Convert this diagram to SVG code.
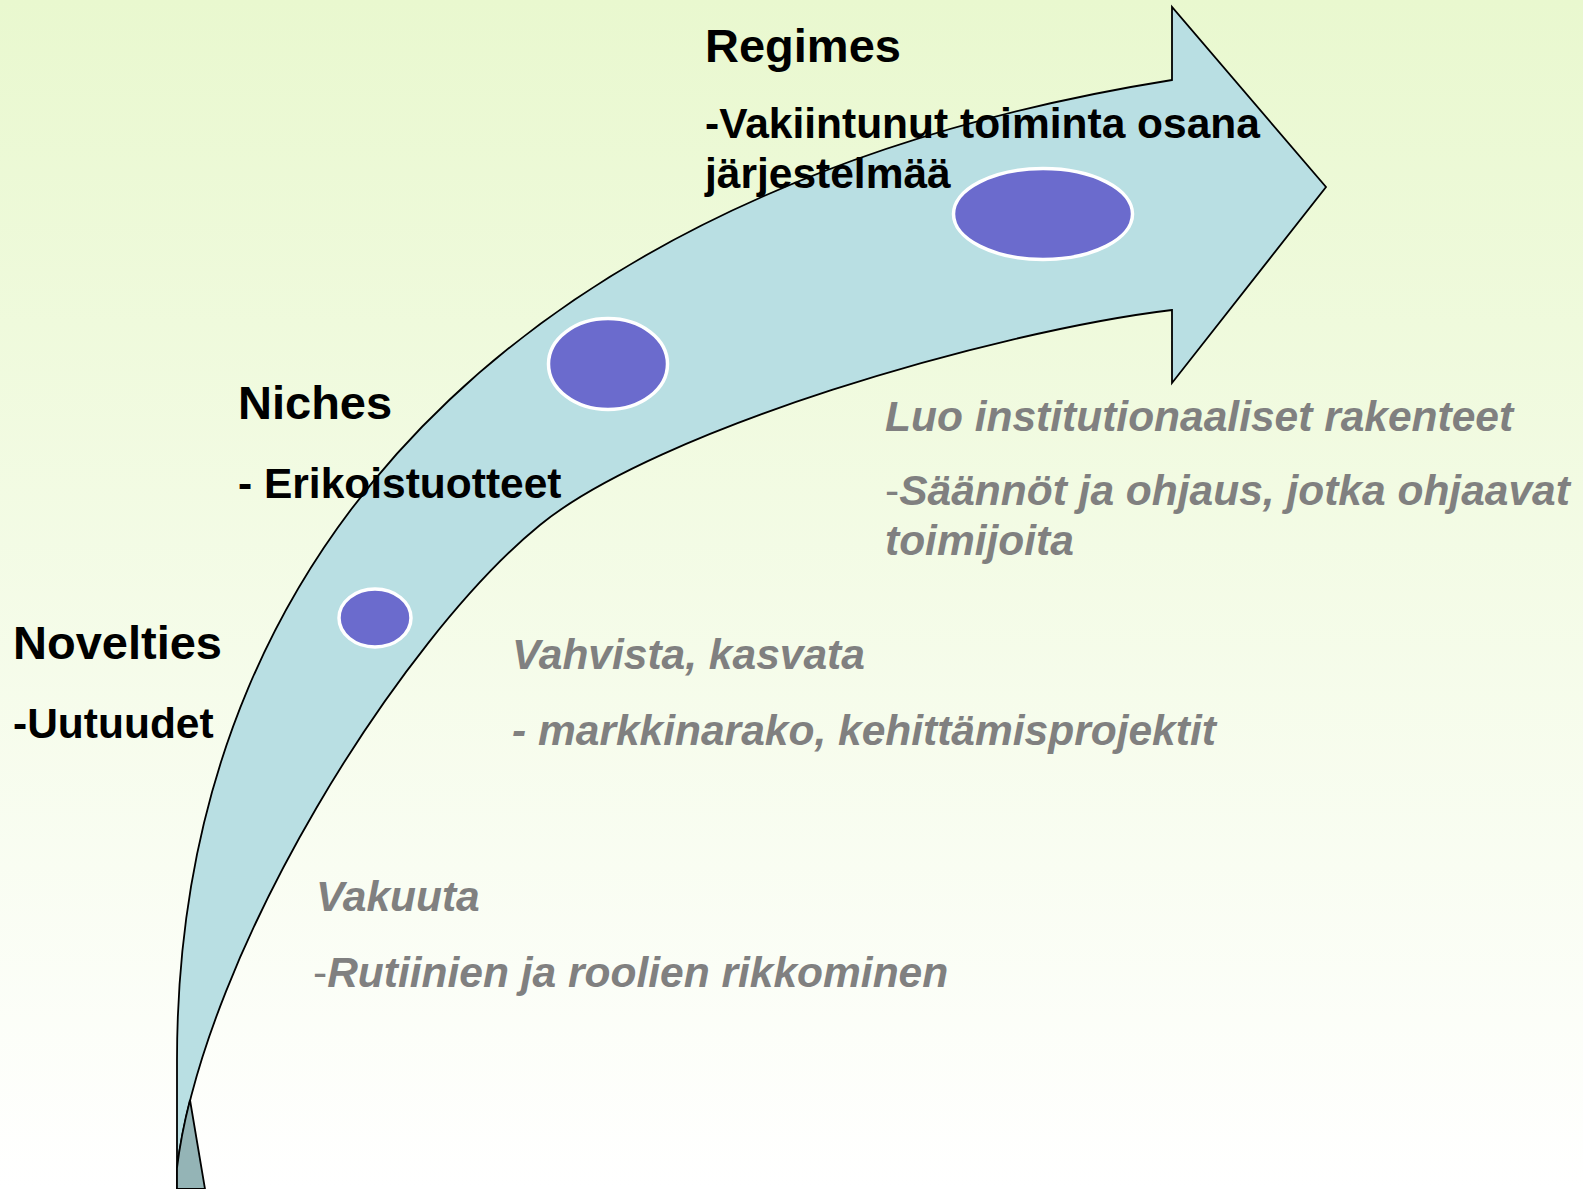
<svg xmlns="http://www.w3.org/2000/svg" width="1583" height="1189" viewBox="0 0 1583 1189">
<defs>
<linearGradient id="bg" x1="0" y1="0" x2="0" y2="1">
<stop offset="0" stop-color="#E9F8CF"/>
<stop offset="1" stop-color="#FFFFFF"/>
</linearGradient>
</defs>
<style>
.arrow{fill:#B9DFE3;stroke:#000;stroke-width:1.8;stroke-linejoin:miter}
.fold{fill:#94B4B6;stroke:#000;stroke-width:1.8}
.dot{fill:#6B6BCD;stroke:#FFFFFF;stroke-width:3.5}
.title{font-family:"Liberation Sans",Arial,sans-serif;font-weight:bold;font-size:47px;fill:#000}
.body{font-family:"Liberation Sans",Arial,sans-serif;font-weight:bold;font-size:42.5px;fill:#000}
.grey{font-family:"Liberation Sans",Arial,sans-serif;font-weight:bold;font-style:italic;font-size:42.5px;fill:#808080}
.thin{font-weight:normal;font-style:normal}
</style>
<rect x="0" y="0" width="1583" height="1189" fill="url(#bg)"/>
<g id="connectors">
<g id="arrow">
<path class="arrow" d="M1172,80 L1172,7 L1326,187 L1172,383 L1172,310 C992,331.6 656,430 540,525 C400.5,638.8 205,950 177,1168 L177,1189 L177,1060 C177,510 572,176 1172,80 Z"/>
<path class="fold" d="M190,1100 Q181,1135 177,1168 L177,1189 L205,1189 Z"/>
</g>
</g>
<g id="dot-novelties"><ellipse class="dot" cx="375" cy="618" rx="36" ry="29"/></g>
<g id="dot-niches"><ellipse class="dot" cx="608" cy="364" rx="59.5" ry="45.5"/></g>
<g id="dot-regimes"><ellipse class="dot" cx="1043" cy="214" rx="89.5" ry="45.5"/></g>
<g id="label-novelties">
<text class="title" x="13" y="659">Novelties</text>
<text class="body" x="13" y="738">-Uutuudet</text>
</g>
<g id="label-niches">
<text class="title" x="238" y="419">Niches</text>
<text class="body" x="238" y="498">- Erikoistuotteet</text>
</g>
<g id="label-regimes">
<text class="title" x="705" y="62">Regimes</text>
<text class="body" x="705" y="138">-Vakiintunut toiminta osana</text>
<text class="body" x="705" y="188">järjestelmää</text>
</g>
<g id="note-regimes">
<text class="grey" x="885" y="431">Luo institutionaaliset rakenteet</text>
<text class="grey" x="885" y="505"><tspan class="thin">-</tspan>Säännöt ja ohjaus, jotka ohjaavat</text>
<text class="grey" x="885" y="555">toimijoita</text>
</g>
<g id="note-niches">
<text class="grey" x="512" y="669">Vahvista, kasvata</text>
<text class="grey" x="512" y="745">- markkinarako, kehittämisprojektit</text>
</g>
<g id="note-novelties">
<text class="grey" x="316" y="911">Vakuuta</text>
<text class="grey" x="313" y="987"><tspan class="thin">-</tspan>Rutiinien ja roolien rikkominen</text>
</g>
</svg>
